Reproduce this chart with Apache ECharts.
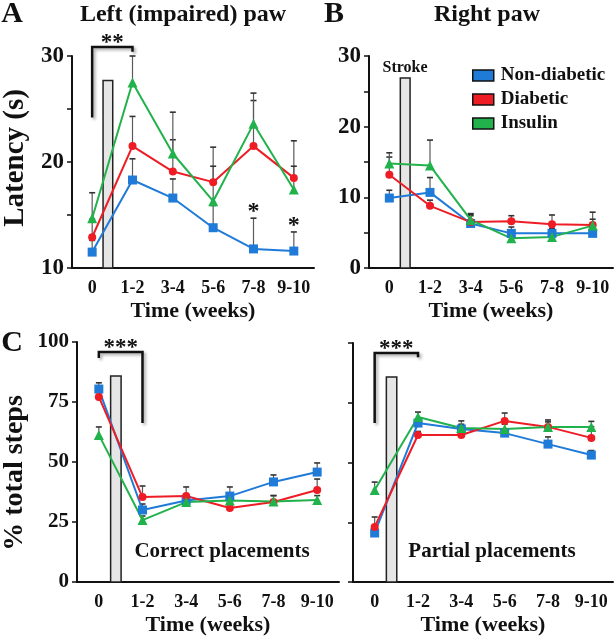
<!DOCTYPE html>
<html>
<head>
<meta charset="utf-8">
<script src="https://cdn.jsdelivr.net/npm/echarts@6/dist/echarts.min.js"></script>
<style>html,body{margin:0;padding:0;background:#fff}#c{width:616px;height:640px}</style>
</head>
<body>
<div id="c"></div>
<script>
// ---------- data ----------
var categories = ['0', '1-2', '3-4', '5-6', '7-8', '9-10'];
var seriesNames = ['Non-diabetic', 'Diabetic', 'Insulin'];

// Panel A: left (impaired) paw latency (s)
var leftNonDiabetic = [11.5, 18.3, 16.6, 13.8, 11.8, 11.6];
var leftDiabetic    = [12.9, 21.5, 19.1, 18.1, 21.5, 18.5];
var leftInsulin     = [14.7, 27.5, 20.8, 16.3, 23.6, 17.4];
var leftNonDiabeticTop = [12.6, 20.3, 18.4, 15.9, 14.7, 13.4];
var leftDiabeticTop    = [14.6, 24.3, 22.1, 21.4, 25.8, 22.0];
var leftInsulinTop     = [17.1, 30.0, 24.7, 19.6, 26.5, 19.6];

// Panel B: right paw latency (s)
var rightNonDiabetic = [9.9, 10.7, 6.3, 4.9, 4.9, 4.9];
var rightDiabetic    = [13.2, 8.8, 6.5, 6.6, 6.2, 6.1];
var rightInsulin     = [14.8, 14.5, 6.8, 4.2, 4.4, 6.0];
var rightNonDiabeticTop = [11.0, 12.8, 7.4, 5.8, 5.6, 5.5];
var rightDiabeticTop    = [15.7, 9.6, 7.7, 7.4, 7.5, 7.9];
var rightInsulinTop     = [16.3, 18.1, 7.6, 5.0, 5.0, 6.9];

// Panel C: correct placements (% total steps)
var correctNonDiabetic = [80.4, 30.0, 34.0, 35.8, 41.7, 45.8];
var correctDiabetic    = [77.1, 35.4, 35.8, 30.8, 33.3, 38.3];
var correctInsulin     = [61.3, 25.8, 33.3, 34.0, 33.5, 34.2];
var correctNonDiabeticTop = [83.0, 32.5, 36.0, 39.6, 44.6, 49.6];
var correctDiabeticTop    = [79.0, 40.0, 39.6, 33.0, 36.0, 42.9];
var correctInsulinTop     = [64.6, 27.5, 35.5, 36.0, 36.0, 36.0];

// Panel D: partial placements (% total steps)
var partialNonDiabetic = [20.5, 66.5, 64.0, 62.3, 57.7, 53.1];
var partialDiabetic    = [23.0, 61.5, 61.5, 67.4, 64.9, 60.3];
var partialInsulin     = [38.5, 69.0, 64.4, 64.0, 64.9, 64.9];
var partialNonDiabeticTop = [22.0, 68.0, 65.5, 64.0, 60.7, 55.0];
var partialDiabeticTop    = [27.2, 63.0, 67.4, 70.7, 67.8, 65.0];
var partialInsulinTop     = [41.8, 71.1, 66.0, 66.0, 67.0, 67.2];

// stroke bar height [top, base] per panel
var strokeA = [27.7, 10];
var strokeB = [26.9, 0];
var strokeC = [85.8, 0];
var strokeD = [85.8, 0];

// significance brackets: [leftCat, leftBottom, rightCat, rightBottom, top, stars]
var bracketA = [0, 24.2, 1, 30.4, 30.85, '**'];
var bracketC = [0, 93.3, 1, 66.3, 95.8, '***'];
var bracketD = [0, 66.5, 1, 94.0, 95.8, '***'];

// single-point stars in panel A: [cat, value]
var starsA = [[4, 15.75], [5, 14.5]];

// y-axis ranges [min, max, interval]
var yRangeA = [10, 30, 5];
var yRangeB = [0, 30, 5];
var yRangeC = [0, 100, 25];
var yRangeD = [0, 100, 25];

// ---------- styles ----------
var FONT = '"Liberation Serif", "Times New Roman", serif';
var COLORS = ['#1f7ad8', '#ee1c24', '#22b24c'];
var SYMBOLS = ['rect', 'circle', 'triangle'];
var SYMSIZE = [9, 8, 10];

var chart = echarts.init(document.getElementById('c'), null, {renderer: 'canvas'});

function xAxisCfg(g) {
  return {
    type: 'category', gridIndex: g, data: categories, boundaryGap: true,
    axisLine: {lineStyle: {color: '#111', width: 2}},
    axisTick: {length: 5, lineStyle: {color: '#111', width: 1.5}},
    axisLabel: {fontFamily: FONT, fontWeight: 'bold', fontSize: 18, color: '#111', margin: 11, interval: 0, hideOverlap: false},
    name: 'Time (weeks)', nameLocation: 'middle', nameGap: 32,
    nameTextStyle: {fontFamily: FONT, fontWeight: 'bold', fontSize: 22, color: '#111'},
    splitLine: {show: false}
  };
}
function yAxisCfg(g, r, labelFn, showLabels, size) {
  return {
    type: 'value', gridIndex: g, min: r[0], max: r[1], interval: r[2],
    axisLine: {show: true, lineStyle: {color: '#111', width: 2}},
    axisTick: {show: true, length: 5, lineStyle: {color: '#111', width: 1.5}},
    axisLabel: {show: showLabels, fontFamily: FONT, fontWeight: 'bold', fontSize: size, color: '#111', margin: 8,
      formatter: labelFn},
    splitLine: {show: false}
  };
}

function errRender(params, api) {
  var p0 = api.coord([api.value(0), api.value(1)]);
  var p1 = api.coord([api.value(0), api.value(2)]);
  var w = 3;
  return {type: 'group', children: [
    {type: 'line', shape: {x1: p0[0], y1: p0[1], x2: p1[0], y2: p1[1]}, style: {stroke: '#5a5a5a', lineWidth: 1.2}},
    {type: 'line', shape: {x1: p1[0] - w, y1: p1[1], x2: p1[0] + w, y2: p1[1]}, style: {stroke: '#333', lineWidth: 1.6}}
  ]};
}
function strokeRender(params, api) {
  var top = api.coord([api.value(0), api.value(1)]);
  var base = api.coord([api.value(0), api.value(2)]);
  var bw = api.size([1, 0])[0];
  return {type: 'rect', shape: {x: top[0] + 0.27 * bw, y: top[1], width: 0.24 * bw, height: base[1] - top[1]},
    style: {fill: '#e6e6e6', stroke: '#222', lineWidth: 1.5}};
}
function bracketRender(params, api) {
  var a = api.coord([api.value(0), api.value(1)]);
  var b = api.coord([api.value(2), api.value(3)]);
  var t = api.coord([api.value(0), api.value(4)])[1];
  var label = api.value(5);
  return {type: 'group', children: [
    {type: 'polyline', shape: {points: [[a[0], a[1]], [a[0], t], [b[0], t], [b[0], b[1]]]},
      style: {stroke: '#111', lineWidth: 2.5, fill: null, shadowBlur: 3, shadowColor: 'rgba(0,0,0,0.35)', shadowOffsetX: 2, shadowOffsetY: 2}},
    {type: 'text', style: {text: label, x: (a[0] + b[0]) / 2, y: t - 4, align: 'center', verticalAlign: 'middle',
      font: 'bold 23px ' + FONT, fill: '#111'}}
  ]};
}
function starRender(params, api) {
  var p = api.coord([api.value(0), api.value(1)]);
  return {type: 'text', style: {text: '*', x: p[0], y: p[1] + 5, align: 'center', verticalAlign: 'middle',
    font: 'bold 24px ' + FONT, fill: '#111'}};
}

var series = [];
function addPanel(g, vals, tops, stroke, bracket) {
  series.push({type: 'custom', xAxisIndex: g, yAxisIndex: g, renderItem: strokeRender, z: 1,
    data: [[0, stroke[0], stroke[1]]], encode: {x: 0, y: [1, 2]}, silent: true});
  for (var s = 0; s < 3; s++) {
    var ed = categories.map(function (c, i) { return [i, vals[s][i], tops[s][i]]; });
    series.push({type: 'custom', xAxisIndex: g, yAxisIndex: g, renderItem: errRender, z: 2,
      data: ed, encode: {x: 0, y: [1, 2]}, silent: true});
  }
  for (var s2 = 0; s2 < 3; s2++) {
    series.push({type: 'line', name: seriesNames[s2], xAxisIndex: g, yAxisIndex: g, data: vals[s2],
      symbol: SYMBOLS[s2], symbolSize: SYMSIZE[s2], showAllSymbol: true, z: 3,
      lineStyle: {color: COLORS[s2], width: 2}, itemStyle: {color: COLORS[s2]}, emphasis: {disabled: true}});
  }
  if (bracket) {
    series.push({type: 'custom', xAxisIndex: g, yAxisIndex: g, renderItem: bracketRender, z: 4,
      data: [bracket], encode: {x: [0, 2], y: [1, 3, 4]}, silent: true, clip: false});
  }
}
addPanel(0, [leftNonDiabetic, leftDiabetic, leftInsulin], [leftNonDiabeticTop, leftDiabeticTop, leftInsulinTop], strokeA, bracketA);
addPanel(1, [rightNonDiabetic, rightDiabetic, rightInsulin], [rightNonDiabeticTop, rightDiabeticTop, rightInsulinTop], strokeB, null);
addPanel(2, [correctNonDiabetic, correctDiabetic, correctInsulin], [correctNonDiabeticTop, correctDiabeticTop, correctInsulinTop], strokeC, bracketC);
addPanel(3, [partialNonDiabetic, partialDiabetic, partialInsulin], [partialNonDiabeticTop, partialDiabeticTop, partialInsulinTop], strokeD, bracketD);
series.push({type: 'custom', xAxisIndex: 0, yAxisIndex: 0, renderItem: starRender, z: 4, data: starsA,
  encode: {x: 0, y: 1}, silent: true, clip: false});

var tenOnly = function (v) { return v % 10 === 0 ? String(v) : ''; };
var all = function (v) { return String(v); };

function txt(t, x, y, size, extra) {
  var o = {type: 'text', x: x, y: y, style: {text: t, font: 'bold ' + size + 'px ' + FONT, fill: '#111',
    align: 'center', verticalAlign: 'middle'}};
  if (extra) for (var k in extra) o[k] = extra[k];
  return o;
}

function gridCfg(l, t, w, h) {
  return {left: l, top: t, width: w, height: h, outerBoundsMode: 'none', containLabel: false};
}

chart.setOption({
  animation: false,
  backgroundColor: '#fff',
  grid: [
    gridCfg(72, 56, 242, 212),
    gridCfg(369, 56, 244, 212),
    gridCfg(77, 342, 262, 240),
    gridCfg(353, 343, 260, 239)
  ],
  xAxis: [xAxisCfg(0), xAxisCfg(1), xAxisCfg(2), xAxisCfg(3)],
  yAxis: [yAxisCfg(0, yRangeA, tenOnly, true, 23), yAxisCfg(1, yRangeB, tenOnly, true, 23),
          yAxisCfg(2, yRangeC, all, true, 21), yAxisCfg(3, yRangeD, all, false, 21)],
  legend: {
    data: seriesNames, orient: 'vertical', left: 467, top: 61, itemWidth: 21, itemHeight: 11, itemGap: 5,
    icon: 'rect', itemStyle: {borderColor: '#111', borderWidth: 1.5}, selectedMode: false,
    textStyle: {fontFamily: FONT, fontWeight: 'bold', fontSize: 19, color: '#111', padding: [0, 0, 0, 2]}
  },
  graphic: [
    txt('A', 12, 14, 30),
    txt('Left (impaired) paw', 183, 15, 24),
    txt('B', 334, 14, 30),
    txt('Right paw', 487, 15, 24),
    txt('C', 12, 343, 30),
    txt('Stroke', 405, 68, 16),
    txt('Correct placements', 222, 552, 21),
    txt('Partial placements', 492, 552, 21),
    txt('Latency (s)', 16, 158, 29, {rotation: Math.PI / 2}),
    txt('% total steps', 15, 473, 28, {rotation: Math.PI / 2})
  ],
  series: series
});
</script>
</body>
</html>
